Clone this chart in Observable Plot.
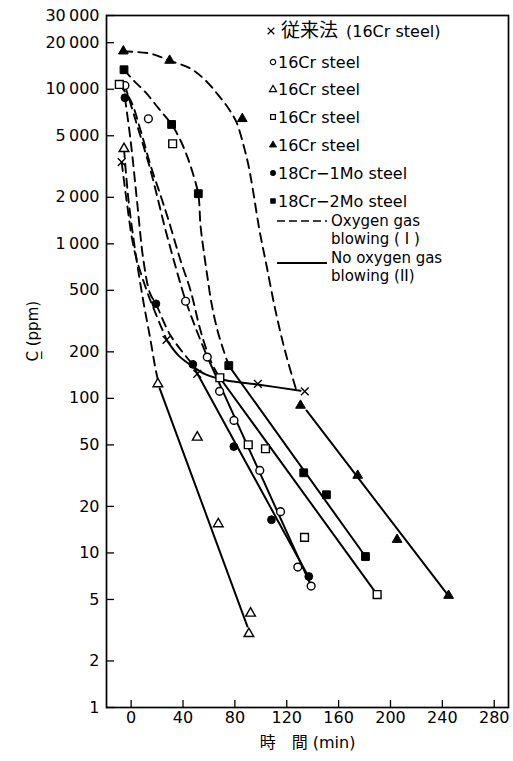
<!DOCTYPE html>
<html><head><meta charset="utf-8">
<script src="https://cdn.jsdelivr.net/npm/d3@7"></script>
<script src="https://cdn.jsdelivr.net/npm/@observablehq/plot@0.6"></script>
<style>
body{margin:0;background:#fff;}
#chart{position:relative;width:513px;height:761px;}
</style></head><body><div id="chart"></div>
<script>
// ---- axes ----
const xTicks = [0, 40, 80, 120, 160, 200, 240, 280];
const yTicks = [1, 2, 5, 10, 20, 50, 100, 200, 500, 1000, 2000, 5000, 10000, 20000, 30000];
const xDomain = [-19, 291];
const yDomain = [1, 30000];

// ---- measured points [min, ppm] ----
const conventionalPts = [[-7.3, 3380], [27.3, 239], [51.0, 144], [97.7, 124], [133.9, 111]];
const openCirclePts = [[-4.8, 10570], [13.3, 6440], [42.0, 425], [58.7, 185], [68.2, 111], [79.3, 72], [99.2, 34.2], [115.2, 18.5], [128.5, 8.1], [138.8, 6.1]];
const openTrianglePts = [[-5.5, 4120], [20.6, 124], [51.0, 56], [67.2, 15.4], [92.1, 4.07], [90.8, 3.0]];
const openSquarePts = [[-9.1, 10740], [32.0, 4440], [68.4, 136], [90.3, 50.1], [103.6, 47.2], [133.7, 12.6], [189.7, 5.38]];
const filledTrianglePts = [[-6.0, 17630], [29.7, 15350], [85.7, 6440], [130.6, 90], [174.7, 31.7], [205.1, 12.2], [244.8, 5.3]];
const filledCirclePts = [[-4.8, 8810], [19.1, 409], [47.6, 166], [79.2, 48.8], [108.2, 16.4], [137.0, 7.04]];
const filledSquarePts = [[-5.5, 13370], [31.2, 5920], [51.8, 2110], [75.3, 163], [133.1, 33.0], [150.6, 23.8], [180.7, 9.48]];

// ---- oxygen gas blowing (I): dashed curves ----
const dashConventional = [[-7.3, 3380], [-3.5, 1906], [2.5, 906], [12.0, 499], [19.5, 344], [27.3, 240]];
const dashOpenTriangle = [[-5.5, 4120], [-2.0, 1906], [3.5, 860], [9.5, 420], [14.5, 250], [18.5, 160], [21.2, 125]];
const dashFilledCircle = [[-4.8, 8810], [-0.4, 4660], [4.5, 1906], [9.5, 780], [14.5, 480], [19.1, 409], [30.4, 255], [47.4, 166]];
const dashOpenCircle = [[-4.8, 10570], [3.5, 6280], [15.0, 2980], [26.6, 1220], [35.1, 672], [42.0, 430], [50.5, 275], [58.9, 184]];
const dashOpenSquare = [[-9.1, 10740], [-0.4, 8460], [7.3, 5410], [15.0, 3210], [22.7, 2055], [28.9, 1416], [38.1, 780], [45.8, 499], [53.5, 275], [61.2, 176], [68.2, 136]];
const dashFilledSquare = [[-5.5, 13370], [1.9, 11400], [11.2, 9530], [21.2, 7510], [31.2, 5920], [38.1, 4660], [43.5, 3620], [47.4, 2890], [51.8, 2090], [53.5, 1315], [55.9, 906], [58.9, 606], [62.0, 411], [66.6, 275], [71.3, 204], [75.3, 163]];
const dashFilledTriangle = [[-6.0, 17600], [15.0, 17000], [29.7, 15300], [45.8, 13620], [57.4, 11400], [67.4, 9120], [75.1, 7510], [81.3, 6100], [86.7, 4330], [90.5, 3210], [93.6, 2310], [99.0, 1220], [104.4, 724], [111.3, 370], [119.0, 198], [127.5, 112]];

// ---- no oxygen gas blowing (II): solid lines ----
const solidConventional = [[27.3, 239], [36.6, 189], [47.4, 161], [57.4, 143], [72.8, 131], [97.5, 123], [130.6, 112]];
const solidOpenTriangle = [[22.0, 116], [89.7, 3.34]];
const solidFilledCircle = [[48.9, 156], [137.5, 6.83]];
const solidOpenCircle = [[58.9, 184], [139.0, 6.07]];
const solidOpenSquare = [[68.4, 136], [189.7, 5.38]];
const solidFilledSquare = [[75.3, 163], [180.7, 9.48]];
const solidFilledTriangle = [[135.2, 83.5], [244.6, 5.3]];

// ---- legend ----
const legendKanji = "従来法";
const legendLabels = ["(16Cr steel)", "16Cr steel", "16Cr steel", "16Cr steel", "16Cr steel", "18Cr−1Mo steel", "18Cr−2Mo steel"];
const legendSymbols = ["times", "circle", "triangle", "square", "triangle", "circle", "square"];
const legendFilled = [false, false, false, false, true, true, true];
const lineLegend = [["Oxygen gas", "blowing ( I )"], ["No oxygen gas", "blowing (II)"]];

const toRows = (arr, id) => arr.map(([x, y]) => ({x, y, id}));
const dashed = [dashConventional, dashOpenTriangle, dashFilledCircle, dashOpenCircle, dashOpenSquare, dashFilledSquare, dashFilledTriangle]
  .flatMap((a, i) => toRows(a, "d" + i));
const solid = [solidConventional, solidOpenTriangle, solidFilledCircle, solidOpenCircle, solidOpenSquare, solidFilledSquare, solidFilledTriangle]
  .flatMap((a, i) => toRows(a, "s" + i));

const pointSets = [
  {pts: conventionalPts, symbol: "times", filled: false},
  {pts: openCirclePts, symbol: "circle", filled: false},
  {pts: openTrianglePts, symbol: "triangle", filled: false},
  {pts: openSquarePts, symbol: "square", filled: false},
  {pts: filledTrianglePts, symbol: "triangle", filled: true},
  {pts: filledCirclePts, symbol: "circle", filled: true},
  {pts: filledSquarePts, symbol: "square", filled: true}
];
const rFor = s => s === "triangle" ? 3.6 : s === "square" ? 4.4 : s === "times" ? 3.6 : 3.9;

const fmtY = d => d >= 1000 ? d3.format(",")(d).replace(",", "\u2009") : String(d);

const chart = Plot.plot({
  width: 513, height: 761,
  marginLeft: 106, marginRight: 5, marginTop: 15, marginBottom: 54,
  style: {fontFamily: "'DejaVu Sans', 'Noto Sans CJK JP', sans-serif", fontSize: "16px", color: "#000", background: "#fff"},
  x: {domain: xDomain},
  y: {type: "log", domain: yDomain},
  marks: [
    Plot.frame({strokeWidth: 1.7}),
    Plot.axisX(xTicks, {tickSize: -7, tickPadding: 11, label: null, strokeWidth: 1.3}),
    Plot.axisY(yTicks, {tickSize: -8, tickPadding: 15, tickFormat: fmtY, label: null, strokeWidth: 1.3}),
    Plot.text(["C\u0332 (ppm)"], {frameAnchor: "left", dx: -73, rotate: -90, fontSize: 15}),
    Plot.text(["時\u3000間 (min)"], {frameAnchor: "bottom", dy: 40, fontSize: 16}),
    Plot.line(dashed, {x: "x", y: "y", z: "id", curve: "catmull-rom", stroke: "#000", strokeWidth: 1.9, strokeDasharray: "9,6"}),
    Plot.line(solid, {x: "x", y: "y", z: "id", curve: "catmull-rom", stroke: "#000", strokeWidth: 2}),
    ...pointSets.map(ps => Plot.dot(ps.pts, {
      x: d => d[0], y: d => d[1], symbol: ps.symbol, r: rFor(ps.symbol),
      fill: ps.filled ? "#000" : (ps.symbol === "times" ? "none" : "#fff"),
      stroke: "#000", strokeWidth: ps.filled ? 1 : 1.4
    }))
  ]
});
document.getElementById("chart").appendChild(chart);

// legend drawn into the svg
const svg = d3.select(chart);
const g = svg.append("g")
  .attr("font-family", "'DejaVu Sans', 'Noto Sans CJK JP', sans-serif")
  .attr("font-size", 16).attr("text-anchor", "start").attr("fill", "#000");
const symType = {times: d3.symbolTimes, circle: d3.symbolCircle, triangle: d3.symbolTriangle, square: d3.symbolSquare};
const rowY = [31, 62, 89.5, 117, 145, 173, 201];
legendLabels.forEach((lab, i) => {
  const y = rowY[i];
  const size = legendSymbols[i] === "times" ? 30 : 22;
  g.append("path")
    .attr("transform", `translate(${i === 0 ? 271 : 273},${y})`)
    .attr("d", d3.symbol().type(symType[legendSymbols[i]]).size(size)())
    .attr("fill", legendFilled[i] ? "#000" : (legendSymbols[i] === "times" ? "none" : "#fff"))
    .attr("stroke", "#000").attr("stroke-width", legendFilled[i] ? 0.8 : 1.2);
  const t = g.append("text").attr("x", i === 0 ? 281 : 278).attr("y", y).attr("dy", "0.36em");
  if (i === 0) {
    t.append("tspan").attr("font-size", 19).attr("font-family", "'Noto Sans CJK JP', sans-serif").text(legendKanji);
    t.append("tspan").attr("dx", 8).text(lab);
  } else {
    t.text(lab);
  }
});
const g2 = g.append("g").attr("font-size", 15);
g2.append("line").attr("x1", 277).attr("x2", 327).attr("y1", 221).attr("y2", 221)
  .attr("stroke", "#000").attr("stroke-width", 1.6).attr("stroke-dasharray", "8,4");
g2.append("text").attr("x", 331).attr("y", 221).attr("dy", "0.36em").text(lineLegend[0][0]);
g2.append("text").attr("x", 331).attr("y", 239).attr("dy", "0.36em").text(lineLegend[0][1]);
g2.append("line").attr("x1", 277).attr("x2", 327).attr("y1", 263).attr("y2", 263)
  .attr("stroke", "#000").attr("stroke-width", 1.8);
g2.append("text").attr("x", 331).attr("y", 258).attr("dy", "0.36em").text(lineLegend[1][0]);
g2.append("text").attr("x", 331).attr("y", 276).attr("dy", "0.36em").text(lineLegend[1][1]);
</script></body></html>
